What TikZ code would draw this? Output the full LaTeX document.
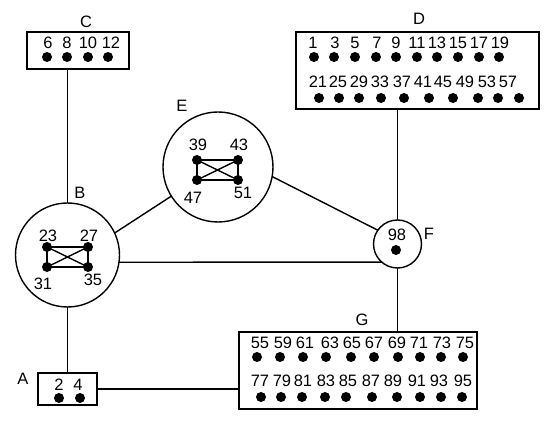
\documentclass[tikz,border=0pt]{standalone}
\usepackage{fontspec}
\setmainfont{Liberation Sans}
\usepackage{tikz}
\usetikzlibrary{calc}

\begin{document}
\begin{tikzpicture}[x=1pt, y=-1pt, line width=1.4pt,
  every node/.style={font=\fontsize{16.5}{19}\selectfont}]

 \tikzset{
    grp/.style={
      rectangle,
      draw,
      inner sep=0mm,
      outer sep=0mm
    },
    hub/.style={
      circle,
      draw,
      inner sep=0mm,
      outer sep=0mm
    },
    pin/.style={
      circle,
      fill=black,
      minimum size=10pt,
      inner sep=0mm
    },
    num/.style={
      inner sep=0mm
    }
  }

\useasboundingbox (0,0) rectangle (550,425);

% groups
\node[grp, minimum width=102pt, minimum height=37pt] (C) at (78,50.5) {};
\node[grp, minimum width=243pt, minimum height=77pt] (D) at (417.5,70.5) {};
\node[grp, minimum width=238pt, minimum height=77pt] (G) at (358,370.5) {};
\node[grp, minimum width=59pt, minimum height=32pt] (A) at (67.5,389) {};
\node[hub, minimum size=104pt] (B) at (67.5,255) {};
\node[hub, minimum size=110pt] (E) at (218,167) {};
\node[hub, minimum size=48pt] (F) at (397.5,244) {};

% names
\node[num] (Cn) at (86,22) {C};
\node[num] (Dn) at (419,19) {D};
\node[num] (En) at (182,106) {E};
\node[num] (Bn) at (80,193) {B};
\node[num] (Fn) at (429,234) {F};
\node[num] (Gn) at (362,320) {G};
\node[num] (An) at (23,379) {A};

% links
\draw (B.north) -- (B.north |- C.south);
\draw (A.north) -- (B.south);
\draw (A.east) -- (A.east -| G.west);
\draw (B.25) -- (E.212);
\draw (E.-10) -- (F.145);
\draw (B.-8) -- (F.229);
\draw (F.north) -- (F.north |- D.south);
\draw (F.south) -- (F.south |- G.north);

% C
\foreach \t/\lx/\dx in {6/48/47, 8/67/67, 10/88/88, 12/111/108} {
    \node[num] (Cl\t) at (\lx,43) {\t};
    \node[pin] (Cp\t) at (\dx,57) {};
}

% A
\foreach \t/\lx/\dx in {2/59/59, 4/78/80} {
    \node[num] (Al\t) at (\lx,385) {\t};
    \node[pin] (Ap\t) at (\dx,398) {};
}

% D
\foreach \t/\lx/\dx in {1/313/314, 3/335/334, 5/355/355, 7/377/376, 9/396/396,
    11/417/417, 13/437/437, 15/458/458, 17/479/479, 19/500/499} {
    \node[num] (Dl\t) at (\lx,43) {\t};
    \node[pin] (Dp\t) at (\dx,57) {};
}
\foreach \t/\lx/\dx in {21/318/319, 25/338/339, 29/359/359, 33/380/381, 37/402/404,
    41/423/429, 45/443/453, 49/465/478, 53/487/498, 57/508/519} {
    \node[num] (Dl\t) at (\lx,82) {\t};
    \node[pin] (Dp\t) at (\dx,98) {};
}

% G
\foreach \t/\lx/\dx in {55/260/257, 59/283/280, 61/305/303, 63/330/326, 65/352/351,
    67/374/374, 69/397/398, 71/419/420, 73/442/441, 75/465/463} {
    \node[num] (Gl\t) at (\lx,343) {\t};
    \node[pin] (Gp\t) at (\dx,357) {};
}
\foreach \t/\lx/\dx in {77/260/261, 79/282/281, 81/303/302, 83/326/325, 85/348/346,
    87/371/372, 89/393/397, 91/417/420, 93/439/441, 95/463/462} {
    \node[num] (Gl\t) at (\lx,381) {\t};
    \node[pin] (Gp\t) at (\dx,397) {};
}

% F
\node[num] (Fl98) at (397,235) {98};
\node[pin] (Fp98) at (396,250) {};

% B mesh
\node[pin] (Bp23) at (47,247) {};
\node[pin] (Bp27) at (88,247) {};
\node[pin] (Bp31) at (47,267) {};
\node[pin] (Bp35) at (88,267) {};
\node[num] (Bl23) at (48,236) {23};
\node[num] (Bl27) at (89,236) {27};
\node[num] (Bl31) at (43,284) {31};
\node[num] (Bl35) at (93,280) {35};
\draw (Bp23.center) -- (Bp27.center) -- (Bp35.center) -- (Bp31.center) -- cycle;
\draw (Bp23.center) -- (Bp35.center);
\draw (Bp27.center) -- (Bp31.center);

% E mesh
\node[pin] (Ep39) at (197,160) {};
\node[pin] (Ep43) at (238,160) {};
\node[pin] (Ep47) at (197,180) {};
\node[pin] (Ep51) at (238,180) {};
\node[num] (El39) at (198,145) {39};
\node[num] (El43) at (239,145) {43};
\node[num] (El47) at (193,198) {47};
\node[num] (El51) at (243,193) {51};
\draw (Ep39.center) -- (Ep43.center) -- (Ep51.center) -- (Ep47.center) -- cycle;
\draw (Ep39.center) -- (Ep51.center);
\draw (Ep43.center) -- (Ep47.center);

\end{tikzpicture}
\end{document}
